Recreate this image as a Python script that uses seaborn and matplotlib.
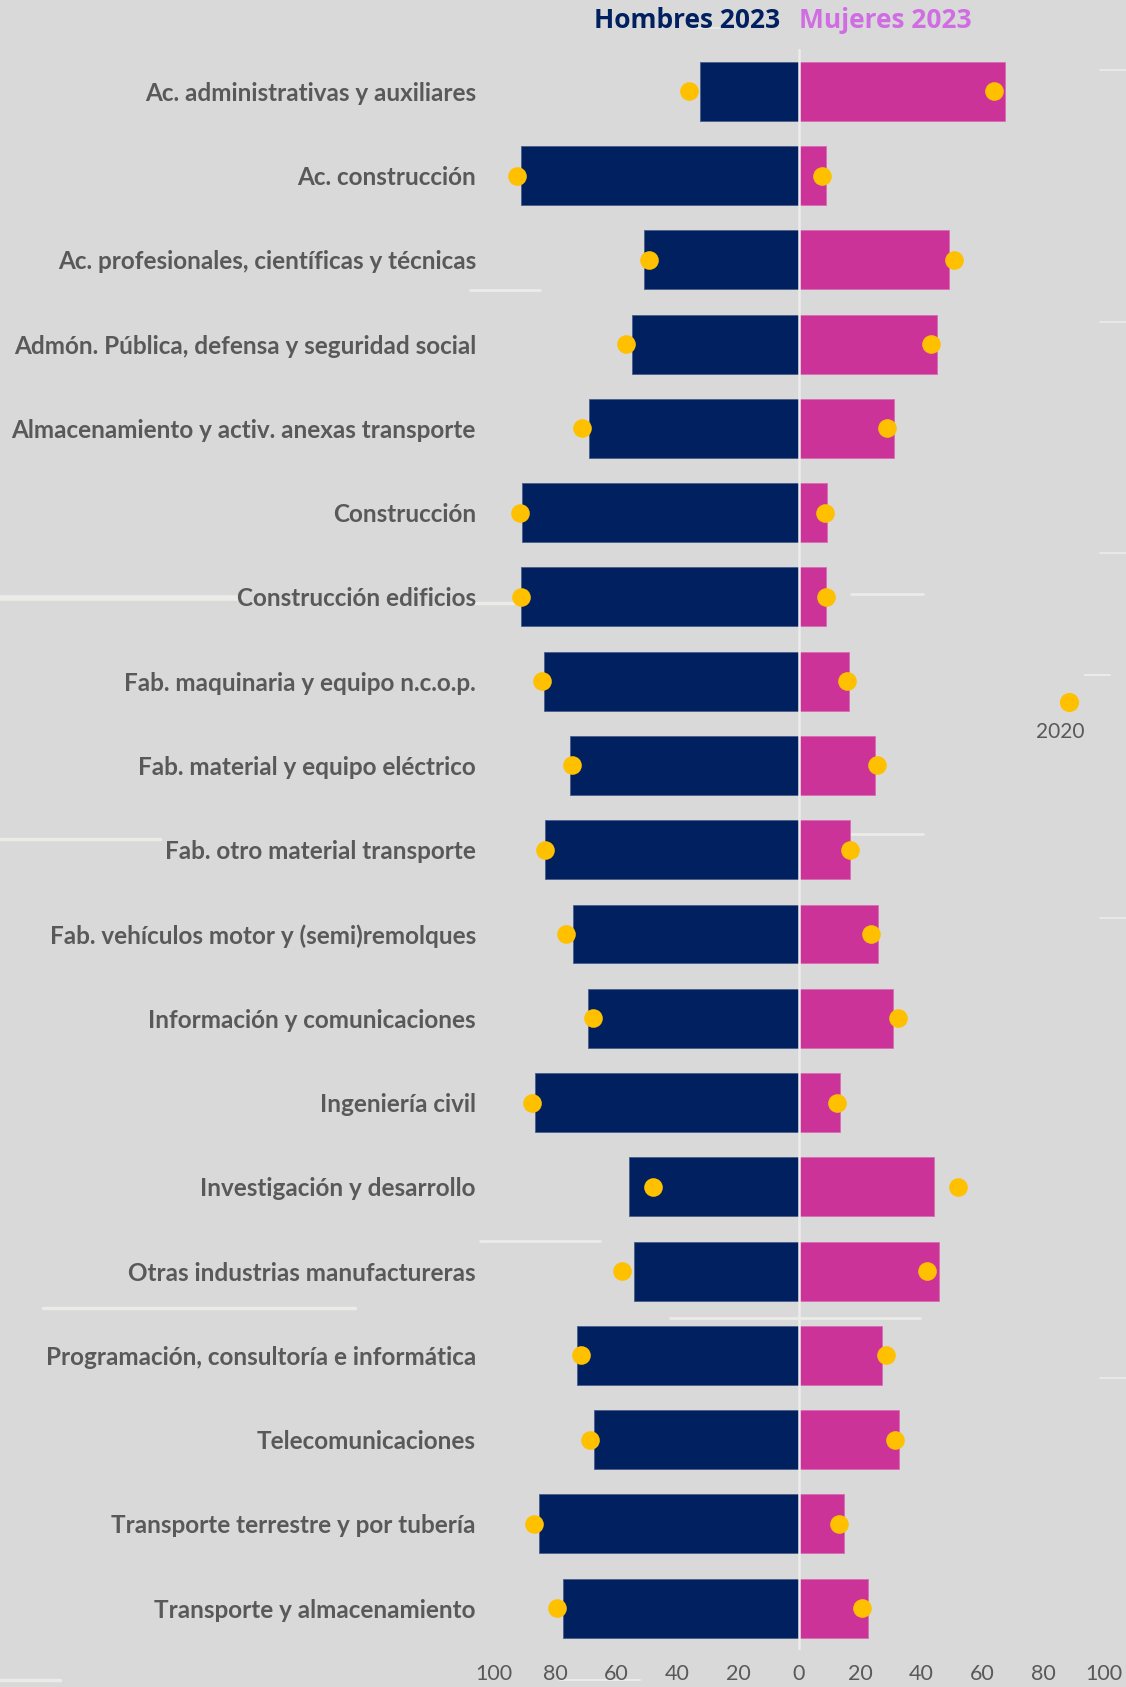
import matplotlib
matplotlib.use("Agg")
import matplotlib.pyplot as plt
from matplotlib.lines import Line2D
import seaborn as sns
import pandas as pd

# Sector names (top to bottom)
categories = [
    "Ac. administrativas y auxiliares",
    "Ac. construcción",
    "Ac. profesionales, científicas y técnicas",
    "Admón. Pública, defensa y seguridad social",
    "Almacenamiento y activ. anexas transporte",
    "Construcción",
    "Construcción edificios",
    "Fab. maquinaria y equipo n.c.o.p.",
    "Fab. material y equipo eléctrico",
    "Fab. otro material transporte",
    "Fab. vehículos motor y (semi)remolques",
    "Información y comunicaciones",
    "Ingeniería civil",
    "Investigación y desarrollo",
    "Otras industrias manufactureras",
    "Programación, consultoría e informática",
    "Telecomunicaciones",
    "Transporte terrestre y por tubería",
    "Transporte y almacenamiento",
]

# Share of employment (%) by sex, 2023
hombres_2023 = [32.3, 91.2, 50.9, 54.7, 69.0, 90.8, 91.2, 83.5, 75.1, 83.2,
                74.2, 69.3, 86.6, 55.8, 54.1, 72.7, 67.1, 85.1, 77.5]
mujeres_2023 = [67.7, 8.8, 49.1, 45.3, 31.0, 9.2, 8.8, 16.5, 24.9, 16.8,
                25.8, 30.7, 13.4, 44.2, 45.9, 27.3, 32.9, 14.9, 22.5]

# Share of employment (%) by sex, 2020
hombres_2020 = [36.1, 92.4, 49.2, 56.8, 71.2, 91.5, 91.2, 84.1, 74.3, 83.4,
                76.3, 67.6, 87.7, 48.0, 58.0, 71.6, 68.4, 86.8, 79.4]
mujeres_2020 = [63.9, 7.6, 50.8, 43.2, 28.8, 8.5, 8.8, 15.9, 25.7, 16.6,
                23.7, 32.4, 12.3, 52.0, 42.0, 28.4, 31.6, 13.2, 20.6]

tick_values = [-100, -80, -60, -40, -20, 0, 20, 40, 60, 80, 100]
tick_labels = ["100", "80", "60", "40", "20", "0", "20", "40", "60", "80", "100"]

BG = "#d9d9d9"
NAVY = "#002060"
MAGENTA = "#cc3399"
VIOLET = "#d06de2"
GOLD = "#ffc000"
GREY = "#595959"

df = pd.DataFrame({
    "sector": categories,
    "hombres": [-v for v in hombres_2023],
    "mujeres": mujeres_2023,
    "hombres_2020": [-v for v in hombres_2020],
    "mujeres_2020": mujeres_2020,
})

sns.set_theme(style="white")
plt.rcParams["font.family"] = ["Lato", "DejaVu Sans"]

W, H = 1126, 1687
fig = plt.figure(figsize=(W / 100, H / 100), dpi=100, facecolor=BG)

# Light brush-stroke texture on the background
strokes = [
    (0, 240, 598, 4.0), (470, 520, 603, 2.5), (0, 160, 839, 2.5),
    (851, 923, 834, 2.0), (851, 923, 594, 2.0), (43, 355, 1308, 2.5),
    (480, 600, 1241, 2.0), (670, 920, 1318, 2.0), (470, 540, 290, 2.0),
    (0, 60, 1680, 2.5), (1085, 1110, 675, 1.5), (1100, 1126, 70, 1.2),
    (1100, 1126, 322, 1.2), (1100, 1126, 553, 1.2), (1100, 1126, 918, 1.2),
    (1100, 1126, 1378, 1.2), (560, 640, 1680, 1.5), (690, 720, 28, 1.2),
]
for x0, x1, yy, lw in strokes:
    fig.add_artist(Line2D([x0 / W, x1 / W], [1 - yy / H, 1 - yy / H],
                          transform=fig.transFigure, color="#f2f2ee",
                          lw=lw, alpha=0.75, zorder=-5, solid_capstyle="round"))

left, right = 494 / W, 1104 / W
top, bottom = 1 - 49.3 / H, 1 - 1650.2 / H
ax = fig.add_axes([left, bottom, right - left, top - bottom])
ax.set_facecolor("none")

sns.barplot(data=df, x="hombres", y="sector", color=NAVY, width=0.7,
            orient="h", ax=ax, saturation=1, edgecolor="#4a5d8a", linewidth=0.6,
            zorder=2)
sns.barplot(data=df, x="mujeres", y="sector", color=MAGENTA, width=0.7,
            orient="h", ax=ax, saturation=1, edgecolor="#d96bb5", linewidth=0.6,
            zorder=2)
ax.axvline(0, color="#ececec", lw=1.8, zorder=3)

sns.scatterplot(data=df, x="hombres_2020", y="sector", color=GOLD, s=180,
                linewidth=0, ax=ax, zorder=4, legend=False)
sns.scatterplot(data=df, x="mujeres_2020", y="sector", color=GOLD, s=180,
                linewidth=0, ax=ax, zorder=4, legend=False)

ax.set_xlim(-100, 100)
ax.set_ylim(len(categories) - 0.5, -0.5)
ax.set_xticks(tick_values)
ax.set_xticklabels(tick_labels)
ax.set_xlabel("")
ax.set_ylabel("")
for s in ax.spines.values():
    s.set_visible(False)
ax.tick_params(axis="both", length=0)
ax.tick_params(axis="x", pad=10, labelsize=15.5, labelcolor=GREY)
ax.tick_params(axis="y", pad=13, labelsize=17.5, labelcolor=GREY)
for lbl in ax.get_yticklabels():
    lbl.set_fontweight("bold")

# 2020 marker key
ax.scatter([0.942], [0.592], s=190, color=GOLD, transform=ax.transAxes,
           clip_on=False, zorder=5, linewidth=0)
ax.text(0.928, 0.5735, "2020", transform=ax.transAxes, ha="center",
        va="center", fontsize=15, color=GREY)

# Header
fig.text(780 / W, 1 - 20 / H, "Hombres 2023", ha="right", va="center",
         fontsize=19, fontweight="bold", color=NAVY,
         family=["Open Sans", "DejaVu Sans"])
fig.text(799 / W, 1 - 20 / H, "Mujeres 2023", ha="left", va="center",
         fontsize=19, fontweight="bold", color=VIOLET,
         family=["Open Sans", "DejaVu Sans"])

fig.savefig("out.png", dpi=100, facecolor=BG)
